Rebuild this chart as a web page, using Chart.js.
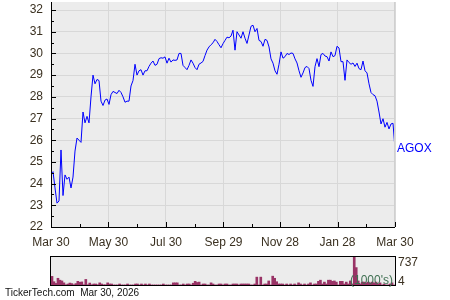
<!DOCTYPE html>
<html>
<head>
<meta charset="utf-8">
<script src="https://cdn.jsdelivr.net/npm/chart.js@4.4.1/dist/chart.umd.min.js"></script>
<style>
  html, body { margin: 0; padding: 0; background: #fff; }
  #wrap { position: relative; width: 450px; height: 300px; }
  #wrap canvas { position: absolute; left: 0; top: 0; }
</style>
</head>
<body>
<div id="wrap">
  <canvas id="priceChart" width="450" height="300"></canvas>
  <canvas id="volChart" width="450" height="300"></canvas>
</div>
<script>
// AGOX daily close, Mar 30 2025 -> Mar 30 2026
const prices = [
  24.45, 24.55, 23.8, 23.1, 23.2, 25.55, 23.45, 24.4, 24.2, 24.3,
  23.8, 24.3, 25.5, 26.1, 26.0, 25.9, 27.3, 26.8, 27.1, 26.8,
  28.0, 29.0, 28.6, 28.8, 28.75, 27.8, 27.6, 27.85, 27.9, 27.65,
  28.1, 28.25, 28.2, 28.15, 28.3, 28.2, 28.0, 27.75, 27.8, 27.8,
  28.5, 28.75, 29.5, 29.0, 29.2, 29.25, 29.0, 29.2, 29.2, 29.4,
  29.55, 29.65, 29.45, 29.5, 29.76, 29.8, 29.78, 29.84, 29.55, 29.78,
  29.6, 29.7, 29.68, 29.7, 30.0, 30.0, 29.45, 29.35, 29.25, 29.45,
  29.7, 29.55, 29.35, 29.25, 29.5, 29.56, 29.63, 29.9, 30.15, 30.3,
  30.4, 30.49, 30.65, 30.55, 30.4, 30.26, 30.45, 30.6, 30.75, 30.72,
  30.8, 31.07, 30.15, 31.0, 30.85, 30.7, 31.0, 30.7, 30.46, 30.85,
  31.25, 31.3, 31.0, 31.15, 30.6, 30.55, 30.33, 30.65, 30.6, 30.3,
  29.75, 29.55, 29.2, 29.04, 29.5, 30.07, 29.78, 29.85, 30.0, 29.95,
  30.02, 30.0, 29.75, 29.56, 29.2, 28.9, 29.1, 29.35, 29.4, 29.3,
  28.76, 28.48, 29.39, 29.76, 29.39, 29.95, 30.0, 29.88, 29.85, 29.65,
  30.07, 29.85, 29.9, 30.33, 30.25, 29.62, 29.62, 28.76, 29.7, 29.58,
  29.5, 29.56, 29.4, 29.55, 29.3, 29.25, 29.65, 29.2, 29.1, 28.6,
  28.2, 28.1, 28.05, 27.8, 27.3, 26.75, 26.99, 26.6, 26.82, 26.52,
  26.75, 26.78, 25.6
];

// volume in 1000's, same days
const volumes = [
  230, 90, 45, 180, 130, 110, 60, 10, 30, 55,
  40, 10, 40, 100, 75, 85, 10, 150, 10, 55,
  10, 30, 30, 10, 60, 30, 10, 10, 60, 30,
  30, 5, 5, 5, 30, 5, 5, 5, 30, 5,
  5, 5, 30, 30, 5, 30, 5, 30, 5, 30,
  5, 5, 5, 5, 5, 5, 30, 5, 5, 5,
  5, 60, 60, 60, 5, 5, 30, 5, 30, 30,
  5, 50, 100, 70, 80, 5, 30, 30, 5, 5,
  60, 30, 5, 5, 30, 30, 5, 30, 30, 5,
  5, 30, 30, 30, 5, 30, 30, 30, 30, 30,
  5, 5, 30, 210, 5, 210, 5, 30, 30, 110,
  5, 235, 180, 90, 30, 30, 30, 5, 30, 5,
  30, 5, 30, 5, 60, 30, 5, 30, 5, 30,
  60, 5, 30, 30, 100, 130, 30, 80, 30, 130,
  130, 100, 110, 80, 5, 100, 100, 30, 80, 30,
  110, 30, 737, 460, 110, 30, 80, 80, 60, 80,
  60, 80, 60, 80, 30, 60, 5, 30, 5, 5,
  30, 60, 5
];

const tickDays = [0, 61, 122, 183, 243, 304, 365];
const tickLabels = ["Mar 30", "May 30", "Jul 30", "Sep 29", "Nov 28", "Jan 28", "Mar 30"];
const yTicks = [22, 23, 24, 25, 26, 27, 28, 29, 30, 31, 32];
const volTicks = [737, 4];
const symbol = "AGOX";

const textColor = "#3a3020";
const font12 = "12px 'Liberation Sans', Arial, sans-serif";

const days = prices.map((p, i) => i * 365 / (prices.length - 1));
const points = prices.map((p, i) => ({ x: days[i], y: p }));

// background, frame, inward ticks, symbol label
const priceDecor = {
  id: "priceDecor",
  beforeDraw(chart) {
    const { ctx, chartArea: a } = chart;
    ctx.save();
    ctx.fillStyle = "#ececec";
    ctx.fillRect(a.left, a.top, a.right - a.left, a.bottom - a.top);
    ctx.restore();
  },
  afterDraw(chart) {
    const { ctx, chartArea: a, scales } = chart;
    const x = scales.x, y = scales.y;
    ctx.save();
    ctx.lineWidth = 1;
    ctx.strokeStyle = "#d0d0d0";
    ctx.beginPath();
    ctx.moveTo(a.right - 0.5, a.top);
    ctx.lineTo(a.right - 0.5, a.bottom);
    ctx.stroke();

    ctx.strokeStyle = "#000";
    ctx.beginPath();
    ctx.moveTo(a.left + 0.5, a.top);
    ctx.lineTo(a.left + 0.5, a.bottom + 0.5);
    ctx.lineTo(a.right, a.bottom + 0.5);
    // y ticks + half-step minor ticks
    yTicks.forEach((v, i) => {
      const py = Math.round(y.getPixelForValue(v)) + 0.5;
      ctx.moveTo(a.left, py); ctx.lineTo(a.left + 5, py);
      if (i < yTicks.length - 1) {
        const pm = Math.round(y.getPixelForValue(v + 0.5)) + 0.5;
        ctx.moveTo(a.left, pm); ctx.lineTo(a.left + 3, pm);
      }
    });
    // x ticks + midway minor ticks
    tickDays.forEach((d, i) => {
      const px = Math.round(x.getPixelForValue(d)) + 0.5;
      ctx.moveTo(px, a.bottom); ctx.lineTo(px, a.bottom - 5);
      if (i < tickDays.length - 1) {
        const pm = Math.round(x.getPixelForValue((d + tickDays[i + 1]) / 2)) + 0.5;
        ctx.moveTo(pm, a.bottom); ctx.lineTo(pm, a.bottom - 3);
      }
    });
    ctx.stroke();

    // symbol next to last close
    const last = prices[prices.length - 1];
    ctx.fillStyle = "#0000ff";
    ctx.font = font12;
    ctx.textBaseline = "middle";
    ctx.textAlign = "left";
    ctx.fillText(symbol, a.right + 2, y.getPixelForValue(last));
    ctx.restore();
  }
};

new Chart(document.getElementById("priceChart"), {
  type: "line",
  data: {
    datasets: [{
      data: points,
      borderColor: "#0000ff",
      borderWidth: 1,
      pointRadius: 0,
      tension: 0,
      fill: false
    }]
  },
  options: {
    responsive: false,
    animation: false,
    devicePixelRatio: 1,
    layout: { padding: { top: 2, right: 55, left: 0, bottom: 0 } },
    plugins: { legend: { display: false }, tooltip: { enabled: false } },
    scales: {
      x: {
        type: "linear",
        min: 0,
        max: 365,
        afterBuildTicks: (axis) => { axis.ticks = tickDays.map(v => ({ value: v })); },
        afterFit: (axis) => { axis.height = 73; axis.paddingLeft = 0; axis.paddingRight = 0; },
        grid: { color: "#d8d8d8", drawTicks: false },
        border: { display: false },
        ticks: {
          autoSkip: false,
          maxRotation: 0,
          padding: 8,
          color: textColor,
          font: { family: "'Liberation Sans', Arial, sans-serif", size: 12 },
          callback: (v) => tickLabels[tickDays.indexOf(v)]
        }
      },
      y: {
        min: 22,
        max: 32.37,
        afterBuildTicks: (axis) => { axis.ticks = yTicks.map(v => ({ value: v })); },
        afterFit: (axis) => { axis.width = 51; axis.paddingTop = 0; axis.paddingBottom = 0; },
        grid: { color: "#d8d8d8", drawTicks: false },
        border: { display: false },
        ticks: {
          padding: 8,
          color: textColor,
          font: { family: "'Liberation Sans', Arial, sans-serif", size: 12 }
        }
      }
    }
  },
  plugins: [priceDecor]
});

// volume panel: box, scale labels, footer
const volDecor = {
  id: "volDecor",
  beforeDraw(chart) {
    const { ctx, chartArea: a } = chart;
    ctx.save();
    ctx.fillStyle = "#ececec";
    ctx.fillRect(a.left, a.top, a.right - a.left, a.bottom - a.top);
    ctx.restore();
  },
  afterDraw(chart) {
    const { ctx, chartArea: a } = chart;
    ctx.save();
    ctx.strokeStyle = "#000";
    ctx.lineWidth = 1;
    ctx.strokeRect(a.left - 0.5, a.top - 0.5, a.right - a.left + 1, a.bottom - a.top + 1);

    ctx.font = font12;
    ctx.textBaseline = "middle";
    ctx.textAlign = "left";
    ctx.fillStyle = textColor;
    ctx.fillText(String(volTicks[0]), a.right + 3, a.top + 6);
    ctx.fillText(String(volTicks[1]), a.right + 3, a.bottom - 3);

    ctx.fillStyle = "#3f7052";
    ctx.textAlign = "right";
    ctx.fillText("(1000's)", a.right - 2, a.bottom - 4);

    ctx.fillStyle = "#111";
    ctx.textAlign = "left";
    ctx.font = "10px 'Liberation Sans', Arial, sans-serif";
    ctx.fillText("TickerTech.com  Mar 30, 2026", 5, 293);
    ctx.restore();
  }
};

new Chart(document.getElementById("volChart"), {
  type: "bar",
  data: {
    labels: volumes.map((v, i) => i),
    datasets: [{
      data: volumes,
      backgroundColor: "#993366",
      borderWidth: 0,
      barPercentage: 1,
      categoryPercentage: 1
    }]
  },
  options: {
    responsive: false,
    animation: false,
    devicePixelRatio: 1,
    layout: { padding: { top: 257, right: 55, left: 51, bottom: 15 } },
    plugins: { legend: { display: false }, tooltip: { enabled: false } },
    scales: {
      x: { display: false },
      y: { display: false, min: 4, max: 737 }
    }
  },
  plugins: [volDecor]
});
</script>
</body>
</html>
